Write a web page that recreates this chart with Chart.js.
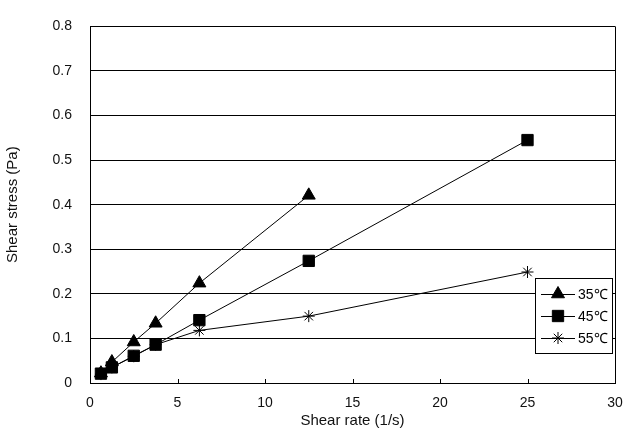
<!DOCTYPE html>
<html>
<head>
<meta charset="utf-8">
<script src="https://cdn.jsdelivr.net/npm/chart.js@4"></script>
<style>
  html, body { margin: 0; padding: 0; background: #fff; }
  #wrap { width: 624px; height: 434px; }
</style>
</head>
<body>
<div id="wrap"><canvas id="shearChart" width="624" height="434"></canvas></div>
<script>
// shear rate (1/s) and shear stress (Pa) per temperature
const shearRate = [0.625, 1.25, 2.5, 3.75, 6.25, 12.5, 25];
const stress35 = [0.022, 0.047, 0.092, 0.134, 0.224, 0.421];
const stress45 = [0.021, 0.035, 0.061, 0.086, 0.141, 0.274, 0.545];
const stress55 = [0.02, 0.035, 0.06, 0.086, 0.118, 0.15, 0.249];
const seriesLabels = ["35\u2103", "45\u2103", "55\u2103"];
const yTicks = [0, 0.1, 0.2, 0.3, 0.4, 0.5, 0.6, 0.7, 0.8];
const xTicks = [0, 5, 10, 15, 20, 25, 30];

const FONT = "'Liberation Sans', Arial, sans-serif";
const toPoints = (vals) => vals.map((v, i) => ({ x: shearRate[i], y: v }));

// right border, small inward x ticks and the boxed legend inside the plot
const extras = {
  id: "extras",
  afterDatasetsDraw(chart) {
    const ctx = chart.ctx;
    const a = chart.chartArea;
    const xs = chart.scales.x;
    ctx.save();
    ctx.strokeStyle = "#000";
    ctx.lineWidth = 1;
    ctx.beginPath();
    ctx.moveTo(Math.round(a.right) + 0.5, a.top);
    ctx.lineTo(Math.round(a.right) + 0.5, a.bottom);
    xTicks.forEach((t) => {
      if (t === 0 || t === 30) return;
      const px = Math.round(xs.getPixelForValue(t)) + 0.5;
      ctx.moveTo(px, a.bottom);
      ctx.lineTo(px, a.bottom - 4);
    });
    ctx.stroke();

    // legend box
    const bx = 535, by = 278, bw = 77, bh = 75;
    ctx.fillStyle = "#fff";
    ctx.fillRect(bx, by, bw, bh);
    ctx.strokeRect(bx + 0.5, by + 0.5, bw, bh);
    ctx.font = "14px " + FONT;
    ctx.textBaseline = "middle";
    chart.data.datasets.forEach((ds, i) => {
      const cy = by + 16 + i * 22;
      ctx.strokeStyle = "#000";
      ctx.fillStyle = "#000";
      ctx.beginPath();
      ctx.moveTo(bx + 6, cy + 0.5);
      ctx.lineTo(bx + 40, cy + 0.5);
      ctx.stroke();
      Chart.helpers.drawPoint(ctx, {
        pointStyle: ds.pointStyle,
        radius: ds.pointRadius,
        borderWidth: 1
      }, bx + 23, cy);
      ctx.fillStyle = "#000";
      ctx.fillText(ds.label, bx + 43, cy + 1);
    });
    ctx.restore();
  }
};

const common = {
  borderColor: "#000",
  backgroundColor: "#000",
  pointBorderColor: "#000",
  pointBackgroundColor: "#000",
  borderWidth: 1,
  pointBorderWidth: 1,
  showLine: true,
  tension: 0
};

new Chart(document.getElementById("shearChart"), {
  type: "scatter",
  data: {
    datasets: [
      Object.assign({}, common, { label: seriesLabels[0], data: toPoints(stress35), pointStyle: "triangle", pointRadius: 7.5 }),
      Object.assign({}, common, { label: seriesLabels[1], data: toPoints(stress45), pointStyle: "rect", pointRadius: 8 }),
      Object.assign({}, common, { label: seriesLabels[2], data: toPoints(stress55), pointStyle: "star", pointRadius: 6 })
    ]
  },
  options: {
    responsive: false,
    animation: false,
    layout: { padding: { top: 16, right: 7, left: 0, bottom: 0 } },
    plugins: { legend: { display: false }, tooltip: { enabled: false } },
    scales: {
      x: {
        type: "linear",
        min: 0,
        max: 30,
        afterBuildTicks: (s) => { s.ticks = xTicks.map((v) => ({ value: v })); },
        afterFit: (s) => { s.height = 51; s.paddingLeft = 0; s.paddingRight = 0; },
        grid: { display: false, drawTicks: false },
        border: { color: "#000", width: 1 },
        ticks: { color: "#111", font: { family: FONT, size: 14 }, padding: 12, maxRotation: 0 },
        title: { display: true, text: "Shear rate (1/s)", color: "#111", font: { family: FONT, size: 15 }, padding: { top: 0 } }
      },
      y: {
        min: 0,
        max: 0.8,
        afterBuildTicks: (s) => { s.ticks = yTicks.map((v) => ({ value: v })); },
        afterFit: (s) => { s.width = 90; },
        grid: { color: "#000", lineWidth: 1, drawTicks: false },
        border: { color: "#000", width: 1 },
        ticks: {
          color: "#111",
          font: { family: FONT, size: 14 },
          padding: 18,
          callback: (v) => (v === 0 ? "0" : v.toFixed(1))
        },
        title: { display: true, text: "Shear stress (Pa)", color: "#111", font: { family: FONT, size: 15 }, padding: { bottom: 2 } }
      }
    }
  },
  plugins: [extras]
});
</script>
</body>
</html>
